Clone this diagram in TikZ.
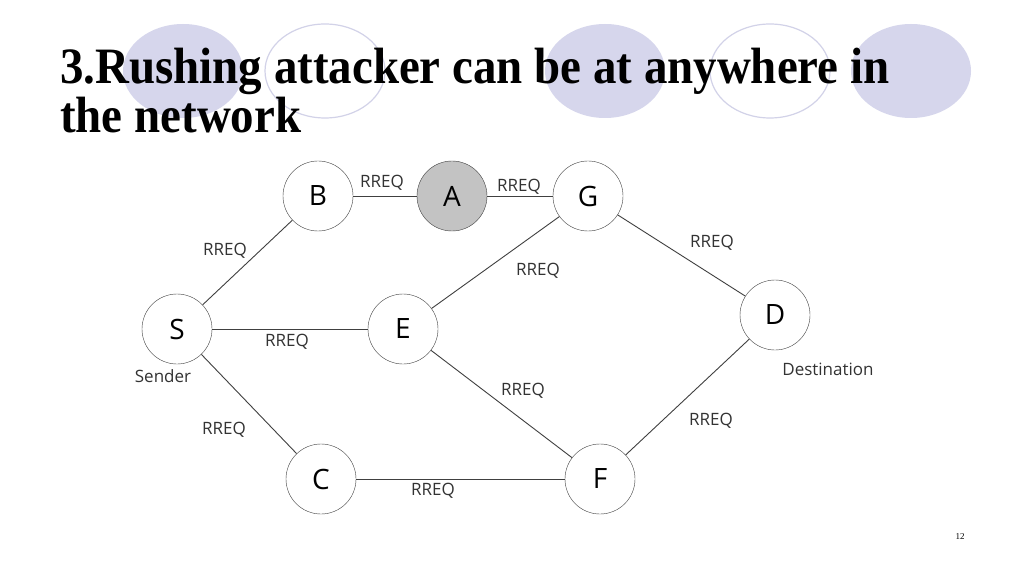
\documentclass[tikz,border=0pt]{standalone}
\usepackage{fontspec}
\setmainfont{Liberation Serif}
\newfontfamily\graphfont{Open Sans}
\usepackage{tikz}
\usetikzlibrary{positioning}
\definecolor{decoFill}{HTML}{D6D6EC}
\definecolor{decoLine}{HTML}{D2D2E8}
\definecolor{edgeGray}{HTML}{404040}
\definecolor{labelGray}{HTML}{333333}
\definecolor{attackGray}{HTML}{C3C3C3}
\newcommand{\titlesqueeze}[1]{\scalebox{0.92}[1]{#1}}
\tikzset{%
  NodeStyle/.style={draw=edgeGray,circle,minimum size=70pt,inner sep=0pt,
    font=\graphfont\fontsize{28}{28}\selectfont,text=black},
  LabelStyle/.style={font=\graphfont\fontsize{17}{18}\selectfont,text=labelGray,inner sep=0pt},
  LinkStyle/.style={draw=edgeGray,line width=0.9pt},
  TitleStyle/.style={anchor=base west,inner sep=0pt,font=\bfseries\fontsize{51}{52}\selectfont}
}

\begin{document}
\begin{tikzpicture}[x=1pt,y=-1pt]
  \useasboundingbox[fill=white] (0,0) rectangle (1024,577);
  % decoration behind the title
  \foreach \cx in {183,605,911}
    {\fill[decoFill] (\cx,71) ellipse [x radius=60, y radius=47];}
  \foreach \cx in {325,770}
    {\draw[decoLine,line width=1.2pt] (\cx,71) ellipse [x radius=60, y radius=47];}
  \node[TitleStyle] (title1) at (60,84)
    {\titlesqueeze{3.Rushing attacker can be at anywhere in}};
  \node[TitleStyle] (title2) at (60,133) {\titlesqueeze{the network}};

  % network
  \node[NodeStyle] (S) at (177,329) {S};
  \node[NodeStyle] (B) at (318,196) {B};
  \node[NodeStyle,fill=attackGray] (A) at (452,196) {A};
  \node[NodeStyle] (G) at (588,196) {G};
  \node[NodeStyle] (E) at (403,329) {E};
  \node[NodeStyle] (D) at (775,315) {D};
  \node[NodeStyle] (C) at (321,479) {C};
  \node[NodeStyle] (F) at (600,479) {F};
  \foreach \from/\to in {S/B,B/A,A/G,G/D,S/E,E/G,E/F,S/C,C/F,F/D}
    {\draw[LinkStyle] (\from) -- (\to);}

  \node[LabelStyle] (lSB) at (225,251) {RREQ};
  \node[LabelStyle] (lBA) at (382,183) {RREQ};
  \node[LabelStyle] (lAG) at (519,187) {RREQ};
  \node[LabelStyle] (lEG) at (538,271) {RREQ};
  \node[LabelStyle] (lGD) at (712,243) {RREQ};
  \node[LabelStyle] (lSE) at (287,342) {RREQ};
  \node[LabelStyle] (lEF) at (523,391) {RREQ};
  \node[LabelStyle] (lSC) at (224,430) {RREQ};
  \node[LabelStyle] (lFD) at (711,421) {RREQ};
  \node[LabelStyle] (lCF) at (433,491) {RREQ};
  \node[LabelStyle] (sender) at (163,376) {Sender};
  \node[LabelStyle] (dest) at (828,369) {Destination};

  \node[font=\fontsize{9}{10}\selectfont,inner sep=0pt] (page) at (960,537) {12};
\end{tikzpicture}
\end{document}
